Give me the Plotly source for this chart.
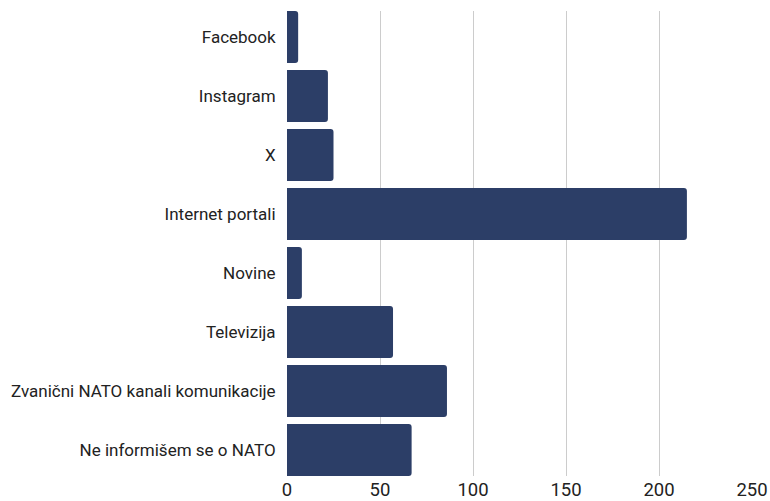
import plotly.graph_objects as go

categories = ["Facebook", "Instagram", "X", "Internet portali", "Novine", "Televizija",
              "Zvanični NATO kanali komunikacije", "Ne informišem se o NATO"]
values = [6, 22, 25, 215, 8, 57, 86, 67]
x_ticks = [0, 50, 100, 150, 200, 250]

fig = go.Figure(go.Bar(
    y=categories, x=values, orientation="h",
    marker=dict(color="#2c3e67", line=dict(width=0)),
))
n = len(categories)
gap = 0.119
fig.update_layout(
    width=770, height=501,
    margin=dict(l=287, r=18, t=11, b=25),
    paper_bgcolor="white", plot_bgcolor="white",
    bargap=gap, barcornerradius=3,
    font=dict(family="Roboto", size=17, color="#222222"),
    showlegend=False,
)
fig.update_xaxes(range=[0, 250], tickvals=x_ticks, showgrid=True, gridcolor="#cccccc",
                 gridwidth=1, zeroline=False, showline=False, automargin=False,
                 tickfont=dict(size=18.5), ticks="", ticklabeloverflow="allow")
fig.update_yaxes(categoryorder="array", categoryarray=categories,
                 range=[n - 0.5 - gap / 2, -0.5 + gap / 2], showgrid=False,
                 zeroline=False, showline=False, ticks="outside", ticklen=7,
                 tickcolor="rgba(0,0,0,0)", tickfont=dict(size=17), automargin=False)
fig.write_html(
    "out.html",
    config={"displayModeBar": False},
    post_script="document.documentElement.style.margin='0';document.body.style.margin='0';"
                "document.body.style.overflow='hidden';",
)
